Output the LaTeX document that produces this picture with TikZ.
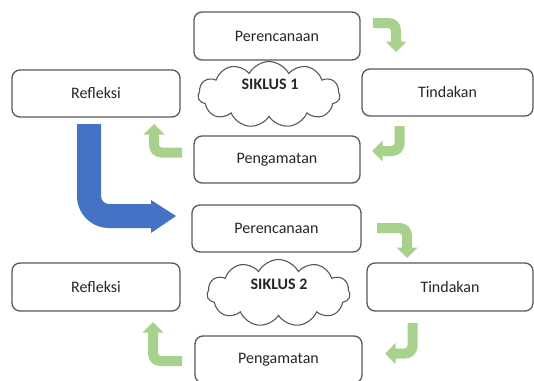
\documentclass[tikz,border=0pt]{standalone}
\usepackage{fontspec}
\setmainfont{Carlito}
\usetikzlibrary{shapes.symbols}
\definecolor{boxline}{HTML}{595959}
\definecolor{txt}{HTML}{262626}
\definecolor{grn}{HTML}{A9D18E}
\definecolor{blu}{HTML}{4472C4}
\tikzset{
  stagebox/.style={rectangle, draw=boxline, line width=1.3pt, rounded corners=8pt,
    inner sep=0pt, text=txt, font=\fontsize{16}{19}\selectfont},
  cloudshape/.style={cloud, cloud puffs=11, cloud puff arc=125, draw=boxline, line width=1.1pt,
    inner sep=0pt, fill=white},
  cloudtext/.style={font=\fontsize{16}{19}\selectfont\bfseries, text=txt, inner sep=0pt},
  greenarrow/.style={fill=grn},
  bluearrow/.style={fill=blu},
}
% bent block arrow: #1,#2 tail start; #3 rotation; #4 length to bend; #5 length to tip
\newcommand\bentarr[5]{%
  \fill[greenarrow, shift={(#1,#2)}, rotate=#3]
    (0,-5) -- ({#4-7},-5)
    .. controls ({#4-0.4},-5) and ({#4+5},{0.4}) .. ({#4+5},{7})
    -- ({#4+5},{#5-10.5}) -- ({#4+10.5},{#5-10.5}) -- (#4,#5)
    -- ({#4-10.5},{#5-10.5}) -- ({#4-5},{#5-10.5}) -- ({#4-5},{8})
    .. controls ({#4-5},{6.35}) and ({#4-6.35},5) .. ({#4-8},5)
    -- (0,5) -- cycle;}
\begin{document}
\begin{tikzpicture}[x=1pt,y=-1pt]
\useasboundingbox (0,0) rectangle (534,380);
\clip (0,0) rectangle (534,380);
\fill[white] (0,0) rectangle (534,380);

% Cycle 1
\node[stagebox, minimum width=166pt, minimum height=48pt] (p1) at (277,36) {Perencanaan};
\node[stagebox, minimum width=168pt, minimum height=47pt] (r1) at (96,93.5) {Refleksi};
\node[stagebox, minimum width=171pt, minimum height=47pt] (t1) at (447.5,92.5) {Tindakan};
\node[stagebox, minimum width=166pt, minimum height=47pt] (g1) at (277,159.5) {Pengamatan};
\node[cloudshape, minimum width=142pt, minimum height=66pt] (c1) at (269,94.5) {};
\node[cloudtext] (s1) at (270,84) {SIKLUS 1};

% Cycle 2
\node[stagebox, minimum width=169pt, minimum height=47pt] (p2) at (276.5,228.5) {Perencanaan};
\node[stagebox, minimum width=168pt, minimum height=48pt] (r2) at (96,287) {Refleksi};
\node[stagebox, minimum width=166pt, minimum height=48pt] (t2) at (450,287) {Tindakan};
\node[stagebox, minimum width=167pt, minimum height=47pt] (g2) at (278.5,359.5) {Pengamatan};
\node[cloudshape, minimum width=143pt, minimum height=67pt] (c2) at (278.5,293) {};
\node[cloudtext] (s2) at (279,284) {SIKLUS 2};

% green bent arrows
\bentarr{373}{23}{0}{23}{29}
\bentarr{399.5}{126}{-90}{25}{27.5}
\bentarr{182}{152.5}{180}{28}{28.5}
\bentarr{377}{228}{0}{30}{30}
\bentarr{412.5}{323}{-90}{30.5}{27.5}
\bentarr{182}{361}{180}{29}{39}

% blue arrow between cycles
\fill[bluearrow] (77,124) -- (101,124) -- (101,196)
  .. controls (101,200.4) and (104.6,204) .. (109,204)
  -- (151,204) -- (151,200) -- (176,216) -- (151,233) -- (151,228) -- (109,228)
  .. controls (91.3,228) and (77,213.7) .. (77,196) -- cycle;
\end{tikzpicture}
\end{document}
